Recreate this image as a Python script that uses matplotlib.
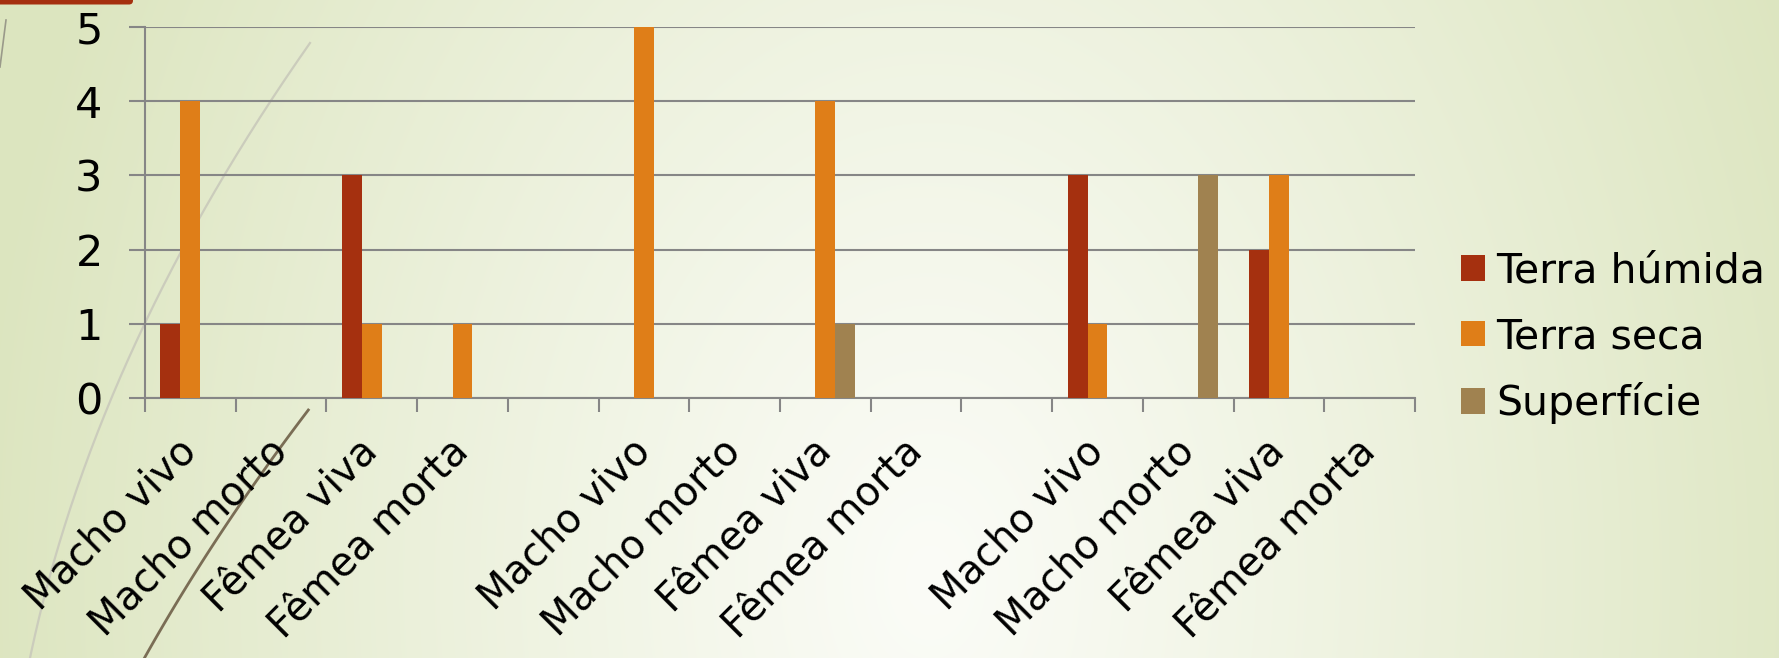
import numpy as np
import matplotlib
matplotlib.use("Agg")
import matplotlib.pyplot as plt
from matplotlib.patches import FancyBboxPatch

# ---- data ----
categories = ["Macho vivo", "Macho morto", "Fêmea viva", "Fêmea morta", "",
              "Macho vivo", "Macho morto", "Fêmea viva", "Fêmea morta", "",
              "Macho vivo", "Macho morto", "Fêmea viva", "Fêmea morta"]
series_names = ["Terra húmida", "Terra seca", "Superfície"]
terra_humida = [1, 0, 3, 0, 0, 0, 0, 0, 0, 0, 3, 0, 2, 0]
terra_seca   = [4, 0, 1, 1, 0, 5, 0, 4, 0, 0, 1, 0, 3, 0]
superficie   = [0, 0, 0, 0, 0, 0, 0, 1, 0, 0, 0, 3, 0, 0]
y_ticks = [0, 1, 2, 3, 4, 5]

colors = ["#A5300F", "#DF7E18", "#A08250"]
plt.rcParams['font.family'] = ['DejaVu Sans']

W, H = 1779, 658
fig = plt.figure(figsize=(W / 100, H / 100), dpi=100)

# ---- background gradient + decoration ----
bg = fig.add_axes([0, 0, 1, 1], zorder=-10)
yy, xx = np.mgrid[0:H, 0:W]
d = np.sqrt(((xx - 930) / 960.0) ** 2 + ((yy - 580) / 1350.0) ** 2)
d = np.clip(d, 0, 1) ** 1.1
c_in = np.array([0xFB, 0xFC, 0xF7]) / 255.0
c_out = np.array([0xDC, 0xE5, 0xBF]) / 255.0
img = c_in[None, None, :] * (1 - d[..., None]) + c_out[None, None, :] * d[..., None]
bg.imshow(img, extent=(0, W, H, 0), aspect='auto')
bg.set_xlim(0, W)
bg.set_ylim(H, 0)
bg.axis('off')

# light curve
py = np.array([658, 323, 43])
px = np.array([30, 145, 310])
cf = np.polyfit(py, px, 2)
ys = np.linspace(43, 658, 200)
bg.plot(np.polyval(cf, ys), ys, color="#CBCCBC", lw=1.6)
# dark curve
py2 = np.array([658, 583, 517, 410])
px2 = np.array([145, 187, 233, 308])
cf2 = np.polyfit(py2, px2, 2)
ys2 = np.linspace(410, 658, 100)
bg.plot(np.polyval(cf2, ys2), ys2, color="#7A6D55", lw=2.0)
# small line top-left
bg.plot([6, 0], [20, 67], color="#9A9A8A", lw=1.2)
# red tab top-left
bg.add_patch(FancyBboxPatch((-10, -10), 143, 14.5, boxstyle="round,pad=0,rounding_size=4",
                            facecolor="#A5300F", edgecolor="none"))

# ---- main chart ----
ax = fig.add_axes([145 / W, 1 - 398 / H, 1270 / W, (398 - 27) / H])
ax.patch.set_alpha(0)
x = np.arange(len(categories))
bw = 0.22
for i, (vals, name) in enumerate(zip([terra_humida, terra_seca, superficie], series_names)):
    ax.bar(x + (i - 1) * bw, vals, width=bw, color=colors[i], label=name, zorder=3)

ax.set_xlim(-0.5, len(categories) - 0.5)
ax.set_ylim(0, 5)
ax.set_yticks(y_ticks)
ax.set_yticklabels([str(v) for v in y_ticks], fontsize=31)
ax.yaxis.grid(True, color="#868686", lw=1.5, zorder=0)
ax.set_axisbelow(True)

ax.set_xticks(np.arange(-0.5, len(categories), 1))
ax.set_xticklabels([])
ax.set_xticks(x, minor=True)
ax.set_xticklabels(categories, minor=True, rotation=45, ha='right', va='center',
                   rotation_mode='anchor', fontsize=28.5)
ax.tick_params(axis='x', which='major', length=10, width=1.5, color="#868686", direction='out')
ax.tick_params(axis='x', which='minor', length=0, pad=34)
ax.tick_params(axis='y', which='major', length=11.5, width=1.5, color="#868686", pad=19)

for s in ['top', 'right']:
    ax.spines[s].set_visible(False)
for s in ['left', 'bottom']:
    ax.spines[s].set_color("#868686")
    ax.spines[s].set_linewidth(1.5)

leg = fig.legend(loc='center left', bbox_to_anchor=(1461 / W, 1 - 338 / H),
                 frameon=False, fontsize=29.5, handlelength=0.58, handleheight=0.58,
                 handletextpad=0.28, labelspacing=0.62, borderpad=0, borderaxespad=0)

fig.savefig("out.png", dpi=100)
